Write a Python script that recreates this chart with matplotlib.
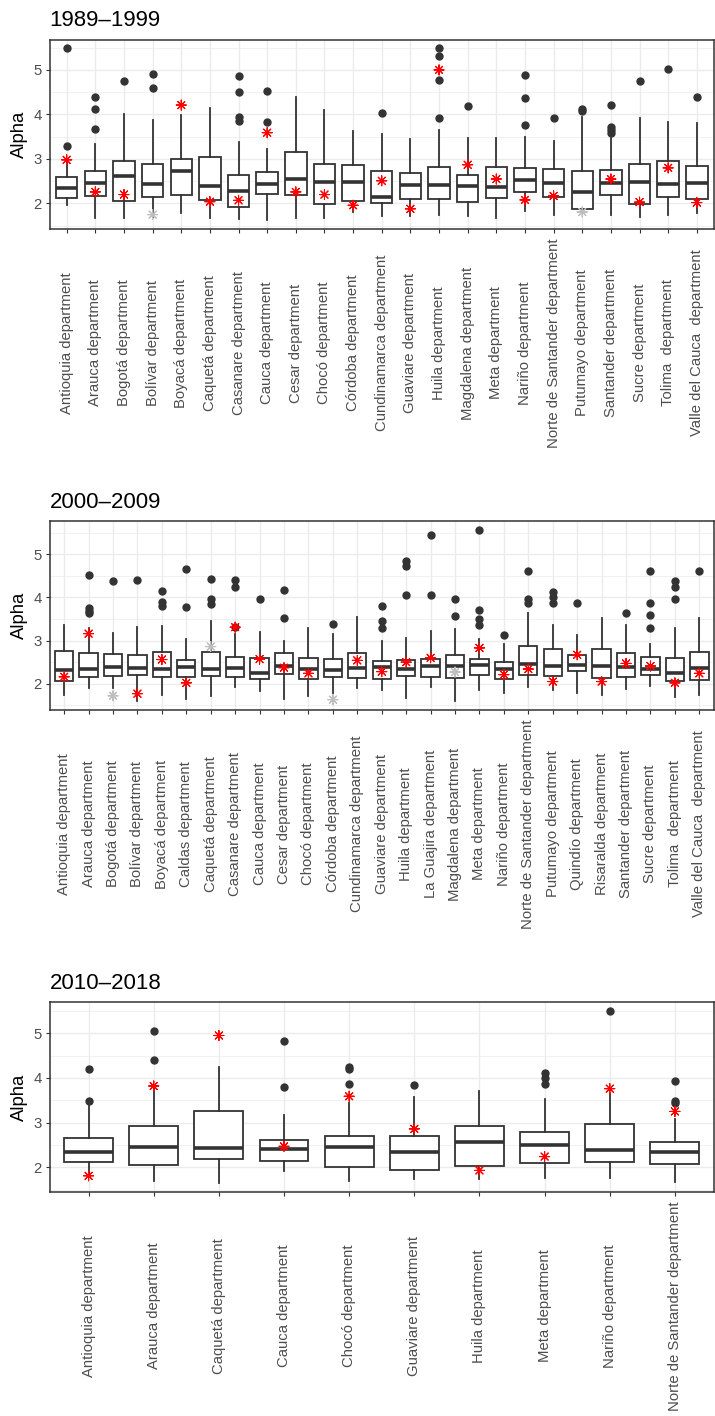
import numpy as np
import matplotlib
matplotlib.use("Agg")
import matplotlib.pyplot as plt
from matplotlib.ticker import MultipleLocator

plt.rcParams['font.family'] = ['Liberation Sans', 'DejaVu Sans']

# ---------------- 1989-1999 ----------------
names1 = ["Antioquia department", "Arauca department", "Bogotá department", "Bolívar department",
          "Boyacá department", "Caquetá department", "Casanare department", "Cauca department",
          "Cesar department", "Chocó department", "Córdoba department", "Cundinamarca department",
          "Guaviare department", "Huila department", "Magdalena department", "Meta department",
          "Nariño department", "Norte de Santander department", "Putumayo department",
          "Santander department", "Sucre department", "Tolima  department", "Valle del Cauca  department"]
q3_1 = [2.60, 2.73, 2.95, 2.89, 3.01, 3.05, 2.63, 2.71, 3.16, 2.88, 2.86, 2.72, 2.68, 2.83, 2.65, 2.82,
        2.79, 2.78, 2.74, 2.75, 2.88, 2.96, 2.84]
med_1 = [2.34, 2.45, 2.61, 2.44, 2.73, 2.40, 2.29, 2.43, 2.55, 2.48, 2.49, 2.14, 2.42, 2.42, 2.40, 2.37,
         2.52, 2.46, 2.26, 2.46, 2.49, 2.43, 2.46]
q1_1 = [2.13, 2.16, 2.06, 2.14, 2.20, 2.08, 1.92, 2.22, 2.20, 1.99, 2.05, 2.02, 2.11, 2.11, 2.04, 2.12,
        2.25, 2.15, 1.88, 2.19, 1.98, 2.14, 2.11]
wlo_1 = [1.97, 1.67, 1.67, 1.70, 1.78, 1.67, 1.66, 1.62, 1.67, 1.67, 1.81, 1.71, 1.71, 1.73, 1.72, 1.67,
         1.84, 1.75, 1.83, 1.73, 1.69, 1.73, 1.78]
whi_1 = [2.95, 3.34, 4.00, 3.88, 3.99, 4.14, 3.38, 3.22, 4.39, 4.10, 3.62, 3.56, 3.44, 3.65, 3.48, 3.46,
         3.50, 3.41, 3.95, 3.46, 3.92, 3.84, 3.80]
out_1 = [[5.49, 3.28], [4.39, 4.12, 3.67], [4.76], [4.91, 4.59], [], [], [4.86, 4.50, 3.95, 3.86],
         [4.53, 3.83], [], [], [], [4.03], [], [5.49, 5.31, 4.78, 3.92], [4.18], [], [4.89, 4.37, 3.77],
         [3.93], [4.12, 4.08], [4.21, 3.72, 3.65, 3.59], [4.74], [5.02], [4.39]]
star_1 = [2.98, 2.26, 2.20, 1.75, 4.21, 2.04, 2.07, 3.59, 2.26, 2.20, 1.96, 2.51, 1.88, 5.00, 2.87, 2.55,
          2.08, 2.17, 1.81, 2.55, 2.03, 2.80, 2.02]
grey_1 = [3, 18]

# ---------------- 2000-2009 ----------------
names2 = ["Antioquia department", "Arauca department", "Bogotá department", "Bolívar department",
          "Boyacá department", "Caldas department", "Caquetá department", "Casanare department",
          "Cauca department", "Cesar department", "Chocó department", "Córdoba department",
          "Cundinamarca department", "Guaviare department", "Huila department", "La Guajira department",
          "Magdalena department", "Meta department", "Nariño department", "Norte de Santander department",
          "Putumayo department", "Quindío department", "Risaralda department", "Santander department",
          "Sucre department", "Tolima  department", "Valle del Cauca  department"]
q3_2 = [2.76, 2.70, 2.69, 2.67, 2.73, 2.56, 2.74, 2.62, 2.60, 2.70, 2.60, 2.57, 2.71, 2.52, 2.55, 2.57,
        2.66, 2.58, 2.51, 2.88, 2.80, 2.67, 2.81, 2.72, 2.62, 2.59, 2.73]
med_2 = [2.31, 2.33, 2.38, 2.37, 2.34, 2.39, 2.35, 2.37, 2.25, 2.42, 2.33, 2.31, 2.36, 2.38, 2.35, 2.40,
         2.41, 2.44, 2.35, 2.46, 2.41, 2.44, 2.42, 2.38, 2.33, 2.25, 2.36]
q1_2 = [2.07, 2.16, 2.18, 2.21, 2.15, 2.15, 2.19, 2.15, 2.10, 2.22, 2.10, 2.15, 2.13, 2.10, 2.17, 2.15,
        2.13, 2.21, 2.11, 2.21, 2.18, 2.29, 2.13, 2.15, 2.21, 2.06, 2.08]
wlo_2 = [1.74, 1.90, 1.89, 1.61, 1.75, 1.65, 1.71, 1.92, 1.82, 1.65, 1.71, 1.78, 1.89, 1.86, 1.67, 1.93,
         1.59, 1.86, 1.79, 1.92, 1.85, 1.79, 1.74, 1.87, 1.95, 1.70, 1.75]
whi_2 = [3.37, 3.30, 3.18, 3.31, 3.33, 3.03, 3.46, 3.14, 3.19, 3.00, 3.29, 3.16, 3.55, 2.98, 3.05, 3.21,
         3.27, 3.04, 2.91, 3.64, 3.36, 3.12, 3.52, 3.35, 2.93, 3.29, 3.53]
out_2 = [[], [4.52, 3.75, 3.69, 3.64], [4.38], [4.40], [4.15, 3.89, 3.81], [4.65, 3.78],
         [4.43, 3.97, 3.84], [4.40, 4.25, 3.31], [3.97], [4.18, 3.52], [], [3.39], [],
         [3.80, 3.45, 3.29], [4.85, 4.73, 4.05], [5.44, 4.05], [3.96, 3.56], [5.57, 3.70, 3.51, 3.37],
         [3.12], [4.60, 3.97, 3.87], [4.12, 4.02, 3.87], [3.88], [], [3.64], [4.62, 3.88, 3.59, 3.28],
         [4.39, 4.23, 3.97], [4.62]]
star_2 = [2.16, 3.16, 1.72, 1.77, 2.56, 2.02, 2.86, 3.31, 2.57, 2.37, 2.24, 1.63, 2.54, 2.28, 2.50, 2.60,
          2.27, 2.83, 2.21, 2.34, 2.05, 2.67, 2.05, 2.47, 2.41, 2.02, 2.24]
grey_2 = [2, 6, 11, 16]

# ---------------- 2010-2018 ----------------
names3 = ["Antioquia department", "Arauca department", "Caquetá department", "Cauca department",
          "Chocó department", "Guaviare department", "Huila department", "Meta department",
          "Nariño department", "Norte de Santander department"]
q3_3 = [2.66, 2.92, 3.26, 2.60, 2.70, 2.69, 2.93, 2.79, 2.96, 2.56]
med_3 = [2.35, 2.46, 2.44, 2.41, 2.46, 2.35, 2.56, 2.50, 2.39, 2.34]
q1_3 = [2.12, 2.06, 2.19, 2.13, 2.01, 1.93, 2.02, 2.09, 2.12, 2.07]
wlo_3 = [1.85, 1.70, 1.64, 1.92, 1.70, 1.73, 1.73, 1.77, 1.75, 1.68]
whi_3 = [3.37, 3.80, 4.25, 3.18, 3.44, 3.57, 3.70, 3.53, 3.67, 3.08]
out_3 = [[4.19, 3.48], [5.05, 4.41], [], [4.83, 3.80], [4.24, 4.19, 3.87], [3.84], [],
         [4.10, 3.99, 3.87], [5.50], [3.94, 3.48, 3.44]]
star_3 = [1.81, 3.82, 4.95, 2.47, 3.59, 2.86, 1.93, 2.24, 3.76, 3.25]
grey_3 = []

titles = ["1989\u20131999", "2000\u20132009", "2010\u20132018"]

W, H = 715, 1416
fig = plt.figure(figsize=(W / 100, H / 100), dpi=100)

# pixel rects: left, top, right, bottom
rects = [(49.5, 39.5, 714, 229), (49.5, 521, 714, 710), (49.5, 1002.3, 714, 1192)]

panels = [
    (names1, q1_1, med_1, q3_1, wlo_1, whi_1, out_1, star_1, grey_1),
    (names2, q1_2, med_2, q3_2, wlo_2, whi_2, out_2, star_2, grey_2),
    (names3, q1_3, med_3, q3_3, wlo_3, whi_3, out_3, star_3, grey_3),
]

DARK = '#333333'
for k, (names, q1, med, q3, wlo, whi, out, star, grey) in enumerate(panels):
    l, t, r, b = rects[k]
    ax = fig.add_axes([l / W, 1 - b / H, (r - l) / W, (b - t) / H])
    n = len(names)
    pos = np.arange(1, n + 1)
    stats = [dict(med=med[i], q1=q1[i], q3=q3[i], whislo=wlo[i], whishi=whi[i], fliers=out[i])
             for i in range(n)]
    ax.bxp(stats, positions=pos, widths=0.75, patch_artist=True, showcaps=False,
           boxprops=dict(facecolor='white', edgecolor=DARK, linewidth=1.3),
           medianprops=dict(color=DARK, linewidth=2.6, solid_capstyle='butt'),
           whiskerprops=dict(color=DARK, linewidth=1.3),
           flierprops=dict(marker='o', markerfacecolor=DARK, markeredgecolor=DARK,
                           markersize=5, linestyle='none'),
           manage_ticks=False, zorder=3)
    cols = ['#BEBEBE' if i in grey else '#FF0000' for i in range(n)]
    ax.scatter(pos, star, marker=(8, 2, 0), c=cols, s=52, linewidths=0.8, zorder=6)

    allv = wlo + whi + star + [v for o in out for v in o]
    lo, hi = min(allv), max(allv)
    rng = hi - lo
    ax.set_ylim(lo - 0.05 * rng, hi + 0.05 * rng)
    ax.set_xlim(0.4, n + 0.6)

    ax.yaxis.set_major_locator(MultipleLocator(1))
    ax.yaxis.set_minor_locator(MultipleLocator(0.5))
    ax.set_axisbelow(True)
    ax.grid(True, which='major', color='#EBEBEB', linewidth=1.0)
    ax.grid(True, which='minor', axis='y', color='#EBEBEB', linewidth=0.5)
    for sp in ax.spines.values():
        sp.set_color(DARK)
        sp.set_linewidth(1.1)

    ax.tick_params(axis='both', which='major', length=3, width=0.8, color=DARK,
                   labelcolor='#4D4D4D', labelsize=10.7)
    ax.tick_params(axis='y', which='minor', length=0)
    ax.tick_params(axis='y', which='major', pad=2.5)
    ax.tick_params(axis='x', which='major', pad=79)
    ax.set_xticks(pos)
    ax.set_xticklabels(names, rotation=90, va='center', ha='center')

    ax.set_ylabel('Alpha', fontsize=13.3, color='black')
    ax.yaxis.set_label_coords(-0.032, 0.5)
    ax.set_title(titles[k], loc='left', fontsize=16, pad=9.5, color='black')

fig.savefig('out.png', dpi=100)
